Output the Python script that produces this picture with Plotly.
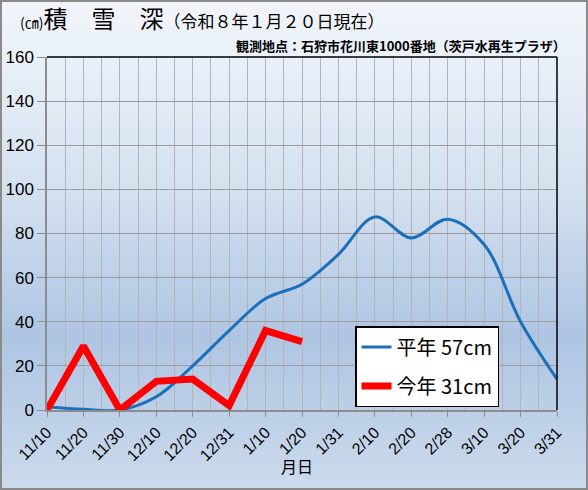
import plotly.graph_objects as go

# 月日 (x categories)
dates = ["11/10", "11/20", "11/30", "12/10", "12/20", "12/31", "1/10", "1/20",
         "1/31", "2/10", "2/20", "2/28", "3/10", "3/20", "3/31"]
# 平年 (average year) snow depth, cm
heinen = [1.5, 0.3, 0, 6, 20, 36, 50.5, 57, 70.5, 87.5, 78, 86.5, 75, 40, 14]
# 今年 (this year) snow depth, cm
kotoshi = [0, 29, 0, 13, 14, 2, 36, 31]

W, H = 588, 490
ML, MR, MT, MB = 47, 31, 57, 80
FONT = "Noto Sans CJK JP"

idx = list(range(len(dates)))

fig = go.Figure()
fig.add_trace(go.Scatter(
    x=idx, y=heinen, mode="lines", name="平年 57cm", legendgroup="a",
    line=dict(color="#1c6fba", width=3, shape="spline", smoothing=1.0),
))
fig.add_trace(go.Scatter(
    x=idx[:len(kotoshi)], y=kotoshi, mode="lines", name="今年 31cm", legendgroup="b",
    line=dict(color="#ff0000", width=7),
))

# background gradient made of thin bands (pixel rows -> paper coords)
stops = [(0, (241, 245, 251)), (60, (233, 240, 248)), (200, (210, 223, 239)),
         (335, (174, 197, 227)), (490, (204, 218, 236))]


def col_at(py):
    for (y0, c0), (y1, c1) in zip(stops[:-1], stops[1:]):
        if y0 <= py <= y1:
            t = (py - y0) / (y1 - y0)
            return "rgb(%d,%d,%d)" % tuple(round(a + (b - a) * t) for a, b in zip(c0, c1))
    return "rgb(%d,%d,%d)" % stops[-1][1]


ph = H - MT - MB
pw = W - ML - MR


def py2paper(py):
    return (H - MB - py) / ph


def px2paper(px):
    return (px - ML) / pw


shapes = []
step = 7
for py in range(0, H, step):
    shapes.append(dict(
        type="rect", xref="paper", yref="paper", layer="below",
        x0=px2paper(0), x1=px2paper(W), y0=py2paper(py + step + 0.5), y1=py2paper(py),
        fillcolor=col_at(py + step / 2), line=dict(width=0),
    ))
# top and right plot border in black
shapes.append(dict(type="line", xref="paper", yref="paper", x0=0, x1=1, y0=1, y1=1,
                   line=dict(color="black", width=1.5)))
shapes.append(dict(type="line", xref="paper", yref="paper", x0=1, x1=1, y0=0, y1=1,
                   line=dict(color="black", width=1.5)))
# outer frame
shapes.append(dict(type="rect", xref="paper", yref="paper",
                   x0=px2paper(1), x1=px2paper(W - 1), y0=py2paper(H - 1), y1=py2paper(1),
                   line=dict(color="#8a8a8a", width=2)))

annotations = [
    dict(xref="paper", yref="paper", x=px2paper(18), y=py2paper(18), xanchor="left", yanchor="middle",
         showarrow=False, font=dict(family=FONT, size=24, color="black"),
         text="<span style='font-size:14px'>(㎝)</span>積　雪　深"
              "<span style='font-size:17px'>（令和８年１月２０日現在）</span>"),
    dict(xref="paper", yref="paper", x=px2paper(568), y=py2paper(45), xanchor="right", yanchor="middle",
         showarrow=False, font=dict(family=FONT, size=13, color="black"),
         text="<b>観測地点：石狩市花川東1000番地（茨戸水再生プラザ）</b>"),
    dict(xref="paper", yref="paper", x=px2paper(297), y=py2paper(466), xanchor="center", yanchor="middle",
         showarrow=False, font=dict(family=FONT, size=16, color="black"), text="月日"),
]

fig.update_layout(
    width=W, height=H,
    margin=dict(l=ML, r=MR, t=MT, b=MB, autoexpand=False),
    paper_bgcolor="#e8eef7",
    plot_bgcolor="rgba(0,0,0,0)",
    font=dict(family=FONT, color="black"),
    shapes=shapes,
    annotations=annotations,
    showlegend=True,
    legend=dict(
        x=px2paper(355), y=py2paper(326), xanchor="left", yanchor="top",
        bgcolor="white", bordercolor="black", borderwidth=1.5,
        font=dict(family=FONT, size=20, color="black"),
        tracegroupgap=10, itemwidth=30,
        entrywidth=118, entrywidthmode="pixels",
    ),
)
fig.update_xaxes(
    automargin=False,
    range=[0, len(dates) - 1],
    tickmode="array", tickvals=idx, ticktext=dates, tickangle=-45,
    tickfont=dict(family="Liberation Sans", size=16),
    ticks="outside", ticklen=5, tickcolor="#8c8c8c",
    showline=True, linecolor="#8c8c8c", linewidth=1.5,
    showgrid=True, gridcolor="#b4b4b4", gridwidth=1,
    minor=dict(dtick=0.5, tick0=0, showgrid=True, gridcolor="#b4b4b4", gridwidth=1),
    zeroline=False,
)
fig.update_yaxes(
    automargin=False,
    range=[0, 160], dtick=20,
    tickfont=dict(family="Liberation Sans", size=17),
    ticks="outside", ticklen=8, tickcolor="#8c8c8c",
    showline=True, linecolor="#8c8c8c", linewidth=1.5,
    showgrid=True, gridcolor="#9c9c9c", gridwidth=1,
    zeroline=False,
)

# page body has a default margin; drop it so the figure sits at the window corner
fig.write_html("out.html", config={"displayModeBar": False},
               post_script="document.body.style.margin='0';")
